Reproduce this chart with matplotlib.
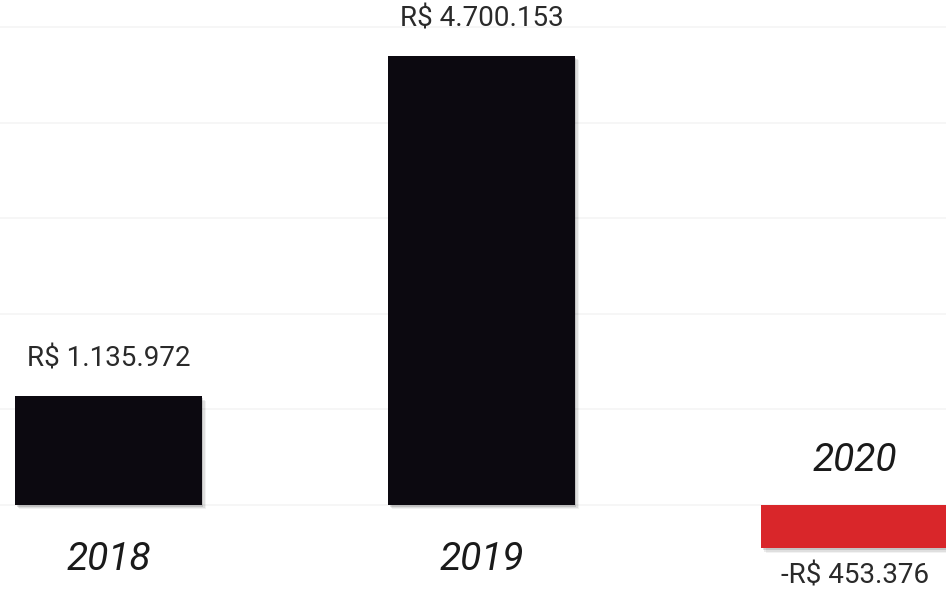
import matplotlib
matplotlib.use('Agg')
import matplotlib.pyplot as plt
import matplotlib.patheffects as pe
import numpy as np

years = ['2018', '2019', '2020']
values = [1135972, 4700153, -453376]
colors = ['#0c0910', '#0c0910', '#d9262a']

plt.rcParams['font.family'] = ['Roboto', 'DejaVu Sans']


def fmtBrl(v):
    s = f'{abs(v):,}'.replace(',', '.')
    return f'-R$ {s}' if v < 0 else f'R$ {s}'


fig = plt.figure(figsize=(9.46, 5.97), dpi=100)
ax = fig.add_axes([0, 0, 1, 1])

x = np.arange(len(years))
bars = ax.bar(x, values, width=0.5, color=colors, zorder=3)
# soft-ish drop shadow, a few stacked layers
for b in bars:
    b.set_path_effects([
        pe.SimplePatchShadow(offset=(3, -3), shadow_rgbFace='k', alpha=0.05),
        pe.SimplePatchShadow(offset=(2, -2.5), shadow_rgbFace='k', alpha=0.08),
        pe.SimplePatchShadow(offset=(1, -1.5), shadow_rgbFace='k', alpha=0.12),
        pe.Normal(),
    ])

ax.set_xlim(-0.291, 2.245)
ax.set_ylim(-962000, 5282000)

ax.set_yticks(np.arange(0, 5500000, 1000000))
ax.yaxis.grid(True, color='#f5f5f5', linewidth=1.2, zorder=0)
ax.set_xticks([])
ax.tick_params(left=False, labelleft=False)
for s in ax.spines.values():
    s.set_visible(False)

for xi, v, yr in zip(x, values, years):
    if v >= 0:
        ax.annotate(fmtBrl(v), (xi, v), xytext=(0, 17), textcoords='offset points',
                    ha='center', va='bottom', fontsize=20, color='#2a2a2a')
        ax.annotate(yr, (xi, 0), xytext=(0, -39), textcoords='offset points',
                    ha='center', va='center', fontsize=28, style='italic', color='#1a1a1a')
    else:
        ax.annotate(fmtBrl(v), (xi, v), xytext=(0, -10), textcoords='offset points',
                    ha='center', va='top', fontsize=20, color='#2a2a2a')
        ax.annotate(yr, (xi, 0), xytext=(0, 32), textcoords='offset points',
                    ha='center', va='center', fontsize=28, style='italic', color='#1a1a1a')

fig.savefig('out.png', dpi=100)
